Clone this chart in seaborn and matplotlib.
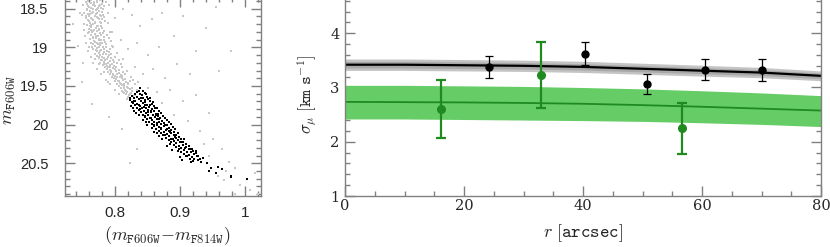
import matplotlib
matplotlib.use("Agg")
import matplotlib.pyplot as plt
from matplotlib.ticker import MultipleLocator, FormatStrFormatter, FixedLocator
import seaborn as sns

# ---- left panel: CMD (colour, magnitude) ----
gray_stars = [
    (0.758, 18.40), (0.767, 18.41), (0.776, 18.39), (0.762, 18.43), (0.771, 18.42), (0.780, 18.44), (0.754, 18.42),
    (0.765, 18.45), (0.774, 18.46), (0.758, 18.47), (0.760, 18.48), (0.769, 18.47), (0.778, 18.49), (0.783, 18.46),
    (0.756, 18.50), (0.766, 18.51), (0.773, 18.49), (0.761, 18.53), (0.770, 18.52), (0.779, 18.54), (0.752, 18.55),
    (0.764, 18.56), (0.772, 18.55), (0.758, 18.57), (0.781, 18.58), (0.759, 18.59), (0.768, 18.60), (0.776, 18.58),
    (0.763, 18.62), (0.771, 18.61), (0.780, 18.63), (0.755, 18.62), (0.766, 18.65), (0.774, 18.64), (0.760, 18.66),
    (0.761, 18.68), (0.769, 18.67), (0.778, 18.69), (0.784, 18.66), (0.757, 18.71), (0.766, 18.70), (0.773, 18.72),
    (0.763, 18.74), (0.771, 18.73), (0.780, 18.75), (0.759, 18.76), (0.767, 18.77), (0.775, 18.76), (0.762, 18.78),
    (0.764, 18.80), (0.772, 18.79), (0.781, 18.81), (0.758, 18.82), (0.768, 18.83), (0.776, 18.82), (0.762, 18.84),
    (0.765, 18.86), (0.773, 18.85), (0.782, 18.87), (0.787, 18.84), (0.761, 18.89), (0.770, 18.88), (0.778, 18.90),
    (0.767, 18.92), (0.775, 18.91), (0.784, 18.93), (0.763, 18.94), (0.771, 18.95), (0.779, 18.94), (0.766, 18.96),
    (0.768, 18.98), (0.777, 18.97), (0.786, 18.99), (0.773, 18.96), (0.772, 19.01), (0.781, 19.00), (0.766, 19.02),
    (0.770, 19.04), (0.778, 19.03), (0.787, 19.05), (0.792, 19.02), (0.774, 19.07), (0.783, 19.06), (0.768, 19.08),
    (0.777, 19.10), (0.786, 19.09), (0.772, 19.11), (0.794, 19.08), (0.780, 19.13), (0.789, 19.12), (0.775, 19.14),
    (0.778, 19.16), (0.787, 19.15), (0.796, 19.17), (0.783, 19.14), (0.783, 19.19), (0.791, 19.18), (0.777, 19.20),
    (0.786, 19.22), (0.795, 19.21), (0.781, 19.23), (0.802, 19.20), (0.789, 19.25), (0.798, 19.24), (0.784, 19.26),
    (0.787, 19.28), (0.796, 19.27), (0.805, 19.29), (0.792, 19.26), (0.793, 19.31), (0.801, 19.30), (0.788, 19.32),
    (0.796, 19.34), (0.805, 19.33), (0.791, 19.35), (0.812, 19.32), (0.800, 19.37), (0.808, 19.36), (0.795, 19.38),
    (0.798, 19.40), (0.807, 19.39), (0.815, 19.41), (0.803, 19.38), (0.804, 19.43), (0.812, 19.42), (0.799, 19.44),
    (0.807, 19.46), (0.816, 19.45), (0.802, 19.47), (0.822, 19.44), (0.811, 19.49), (0.819, 19.48), (0.806, 19.50),
    (0.809, 19.52), (0.818, 19.51), (0.825, 19.53), (0.814, 19.50), (0.815, 19.55), (0.822, 19.54), (0.810, 19.56),
    (0.818, 19.58), (0.826, 19.57), (0.813, 19.59), (0.816, 19.61), (0.823, 19.60), (0.830, 19.62), (0.820, 19.64),
    (0.827, 19.63), (0.823, 19.66), (0.818, 19.67),
    (0.762, 18.39), (0.771, 18.40), (0.756, 18.44), (0.767, 18.44), (0.776, 18.45), (0.763, 18.49), (0.772, 18.50),
    (0.781, 18.50), (0.757, 18.52), (0.766, 18.54), (0.775, 18.53), (0.761, 18.57), (0.770, 18.57), (0.778, 18.60),
    (0.755, 18.60), (0.764, 18.63), (0.773, 18.62), (0.782, 18.61), (0.758, 18.65), (0.768, 18.69), (0.776, 18.67),
    (0.763, 18.71), (0.770, 18.75), (0.778, 18.72), (0.761, 18.73), (0.766, 18.79), (0.774, 18.78), (0.783, 18.79),
    (0.760, 18.80), (0.770, 18.85), (0.778, 18.84), (0.765, 18.88), (0.774, 18.89), (0.782, 18.91), (0.769, 18.93),
    (0.777, 18.95), (0.786, 18.96), (0.764, 18.99), (0.774, 18.99), (0.783, 19.02), (0.776, 19.05), (0.790, 19.06),
    (0.771, 19.05), (0.781, 19.09), (0.790, 19.10), (0.775, 19.12), (0.784, 19.17), (0.793, 19.14), (0.780, 19.17),
    (0.788, 19.20), (0.798, 19.19), (0.783, 19.21), (0.792, 19.23), (0.801, 19.25), (0.787, 19.24), (0.791, 19.29),
    (0.800, 19.28), (0.794, 19.32), (0.803, 19.35), (0.810, 19.37), (0.797, 19.36), (0.801, 19.41), (0.810, 19.40),
    (0.806, 19.44), (0.814, 19.47), (0.820, 19.46), (0.809, 19.48), (0.813, 19.53), (0.820, 19.52), (0.817, 19.56),
    (0.824, 19.59), (0.812, 19.58), (0.821, 19.62),
    (0.750, 18.45), (0.786, 18.42), (0.749, 18.58), (0.788, 18.55), (0.751, 18.70), (0.789, 18.68), (0.753, 18.85),
    (0.791, 18.80), (0.755, 18.95), (0.793, 18.92), (0.758, 19.05), (0.797, 19.00), (0.762, 19.12), (0.800, 19.12),
    (0.766, 19.20), (0.806, 19.16), (0.772, 19.28), (0.811, 19.25), (0.778, 19.35), (0.818, 19.30), (0.785, 19.42),
    (0.824, 19.38), (0.792, 19.48), (0.830, 19.47), (0.800, 19.55), (0.834, 19.55), (0.805, 19.60), (0.752, 18.78),
    (0.790, 18.88), (0.795, 18.98), (0.760, 19.00), (0.803, 19.07), (0.768, 19.15), (0.808, 19.22), (0.775, 19.22),
    (0.815, 19.35), (0.782, 19.32), (0.827, 19.42), (0.789, 19.45),
]
field_stars = [
    (0.735, 18.70), (0.745, 18.55), (0.742, 18.98), (0.750, 19.20), (0.748, 19.45), (0.764, 19.73), (0.790, 18.45),
    (0.800, 18.62), (0.812, 18.50), (0.826, 18.58), (0.838, 18.72), (0.856, 18.64), (0.872, 18.55), (0.795, 18.80),
    (0.808, 18.90), (0.820, 19.02), (0.834, 18.95), (0.850, 19.10), (0.868, 19.00), (0.890, 18.85), (0.905, 18.60),
    (0.925, 19.05), (0.940, 18.75), (0.955, 18.48), (0.812, 19.15), (0.830, 19.25), (0.842, 19.35), (0.858, 19.28),
    (0.876, 19.40), (0.895, 19.22), (0.915, 19.35), (0.960, 19.30), (0.978, 19.05), (0.835, 19.45), (0.850, 19.52),
    (0.865, 19.58), (0.885, 19.55), (0.905, 19.70), (0.925, 19.62), (0.945, 19.85), (0.872, 19.72), (0.890, 19.88),
    (0.912, 19.95), (0.930, 20.08), (0.950, 20.18), (0.965, 20.32), (0.975, 20.48), (0.985, 20.56), (0.992, 20.78),
    (1.008, 20.84), (0.968, 20.72), (0.958, 20.66), (0.970, 20.60), (1.015, 20.62), (0.823, 20.50), (0.833, 20.31),
    (0.810, 20.05), (0.790, 19.90), (0.945, 20.40), (0.936, 20.25), (1.020, 20.90), (0.985, 20.90),
]
black_stars = [
    (0.838, 19.52), (0.836, 19.56), (0.843, 19.57), (0.830, 19.60), (0.838, 19.61), (0.845, 19.59),
    (0.826, 19.63), (0.834, 19.64), (0.841, 19.62), (0.849, 19.64),
    (0.828, 19.66), (0.836, 19.67), (0.843, 19.65), (0.851, 19.67), (0.822, 19.68),
    (0.831, 19.69), (0.839, 19.70), (0.846, 19.68), (0.854, 19.70), (0.825, 19.71),
    (0.827, 19.72), (0.834, 19.73), (0.842, 19.72), (0.849, 19.74), (0.857, 19.73),
    (0.830, 19.75), (0.838, 19.76), (0.845, 19.75), (0.852, 19.77), (0.860, 19.76), (0.824, 19.76),
    (0.833, 19.78), (0.841, 19.79), (0.848, 19.78), (0.856, 19.80), (0.864, 19.79),
    (0.836, 19.81), (0.844, 19.82), (0.851, 19.81), (0.859, 19.83), (0.829, 19.82), (0.867, 19.82),
    (0.839, 19.84), (0.847, 19.85), (0.855, 19.84), (0.862, 19.86), (0.870, 19.85),
    (0.842, 19.87), (0.850, 19.88), (0.858, 19.87), (0.866, 19.89), (0.836, 19.88),
    (0.846, 19.90), (0.853, 19.91), (0.861, 19.90), (0.869, 19.92), (0.876, 19.91),
    (0.849, 19.93), (0.857, 19.94), (0.864, 19.93), (0.872, 19.95), (0.843, 19.94),
    (0.852, 19.96), (0.860, 19.97), (0.868, 19.96), (0.875, 19.98), (0.882, 19.97),
    (0.856, 19.99), (0.864, 20.00), (0.871, 19.99), (0.879, 20.01), (0.849, 20.00),
    (0.860, 20.02), (0.867, 20.03), (0.875, 20.02), (0.883, 20.04), (0.889, 20.03),
    (0.863, 20.05), (0.871, 20.06), (0.879, 20.05), (0.886, 20.07),
    (0.867, 20.08), (0.875, 20.09), (0.882, 20.08), (0.890, 20.10), (0.860, 20.09),
    (0.871, 20.11), (0.879, 20.12), (0.886, 20.11), (0.894, 20.13),
    (0.874, 20.14), (0.882, 20.15), (0.890, 20.14), (0.898, 20.16), (0.868, 20.15),
    (0.878, 20.17), (0.886, 20.18), (0.894, 20.17), (0.901, 20.19),
    (0.882, 20.20), (0.890, 20.21), (0.897, 20.20), (0.905, 20.22),
    (0.886, 20.23), (0.894, 20.24), (0.901, 20.23), (0.909, 20.25),
    (0.890, 20.26), (0.898, 20.27), (0.905, 20.26), (0.913, 20.28),
    (0.894, 20.29), (0.902, 20.30), (0.909, 20.29), (0.916, 20.31),
    (0.898, 20.32), (0.906, 20.33), (0.913, 20.32), (0.920, 20.34),
    (0.902, 20.35), (0.910, 20.36), (0.917, 20.35), (0.924, 20.37),
    (0.906, 20.38), (0.914, 20.39), (0.921, 20.38), (0.928, 20.40),
    (0.911, 20.41), (0.918, 20.42), (0.926, 20.41),
    (0.915, 20.44), (0.922, 20.45), (0.930, 20.44),
    (0.920, 20.47), (0.903, 20.46), (0.932, 20.48),
    (0.942, 20.50), (0.948, 20.56), (0.958, 20.55), (0.955, 20.62), (0.964, 20.58), (0.945, 20.60),
    (0.978, 20.66), (0.979, 20.68), (1.003, 20.70),
    (0.833, 19.58), (0.847, 19.61), (0.823, 19.65), (0.839, 19.66), (0.853, 19.65), (0.829, 19.70), (0.845, 19.71),
    (0.858, 19.71), (0.836, 19.74), (0.853, 19.74), (0.827, 19.78), (0.844, 19.77), (0.861, 19.79), (0.838, 19.80),
    (0.855, 19.82), (0.832, 19.85), (0.851, 19.84), (0.866, 19.86), (0.845, 19.89), (0.862, 19.88), (0.873, 19.89),
    (0.855, 19.92), (0.868, 19.93), (0.880, 19.94), (0.847, 19.97), (0.865, 19.98), (0.886, 19.99), (0.860, 20.00),
    (0.876, 20.00), (0.856, 20.04), (0.870, 20.04), (0.892, 20.06), (0.878, 20.07), (0.864, 20.11), (0.884, 20.10),
    (0.897, 20.11), (0.877, 20.13), (0.892, 20.16), (0.872, 20.18), (0.889, 20.19), (0.906, 20.18), (0.885, 20.25),
    (0.899, 20.22), (0.880, 20.28), (0.908, 20.30), (0.896, 20.34), (0.919, 20.31), (0.888, 20.33), (0.909, 20.40),
    (0.925, 20.34), (0.900, 20.42), (0.917, 20.48), (0.935, 20.43), (0.928, 20.46),
]

# ---- right panel: dispersion profile ----
r_black = [24.2, 40.4, 50.7, 60.5, 70.0]
sig_black = [3.38, 3.62, 3.06, 3.33, 3.32]
err_black = [0.20, 0.21, 0.18, 0.19, 0.20]

r_green = [16.1, 33.0, 56.6]
sig_green = [2.60, 3.23, 2.25]
err_green = [0.54, 0.61, 0.47]

r_model = [0, 10, 20, 30, 40, 50, 60, 70, 80]
black_model = [3.42, 3.42, 3.41, 3.40, 3.38, 3.345, 3.31, 3.275, 3.215]
black_outer = [0.105, 0.105, 0.105, 0.104, 0.103, 0.102, 0.100, 0.095, 0.090]
black_inner = [0.060, 0.060, 0.060, 0.060, 0.058, 0.057, 0.055, 0.053, 0.050]
green_model = [2.735, 2.73, 2.725, 2.715, 2.70, 2.675, 2.645, 2.61, 2.575]
green_hi = [3.04, 3.04, 3.03, 3.02, 3.00, 2.975, 2.94, 2.90, 2.85]
green_lo = [2.42, 2.42, 2.41, 2.40, 2.39, 2.375, 2.35, 2.32, 2.28]

sig_ticks = [1, 2, 3, 4]

sns.set_style("ticks")
plt.rcParams["font.family"] = ["Liberation Sans", "DejaVu Sans"]
plt.rcParams["mathtext.fontset"] = "cm"

FRAME = "#808080"
GREEN = "#1f8a1f"

fig = plt.figure(figsize=(8.3, 2.47), dpi=100)
ax1 = fig.add_axes([65 / 830, 1 - 196 / 247, 196 / 830, 199 / 247])
ax2 = fig.add_axes([345 / 830, 1 - 196 / 247, 476 / 830, 217 / 247])

gc, gm = zip(*(gray_stars + field_stars))
bc, bm = zip(*black_stars)
sns.scatterplot(x=list(gc), y=list(gm), marker="s", s=4, color="#c8c8c8",
                linewidth=0, ax=ax1, legend=False)
sns.scatterplot(x=list(bc), y=list(bm), marker="s", s=3.8, color="black",
                linewidth=0, ax=ax1, legend=False)
ax1.set_xlim(0.7223, 1.0247)
ax1.set_ylim(20.923, 18.349)
ax1.xaxis.set_major_locator(MultipleLocator(0.1))
ax1.xaxis.set_minor_locator(MultipleLocator(0.02))
ax1.yaxis.set_major_locator(MultipleLocator(0.5))
ax1.yaxis.set_minor_locator(MultipleLocator(0.1))
ax1.xaxis.set_major_formatter(FormatStrFormatter("%g"))
ax1.yaxis.set_major_formatter(FormatStrFormatter("%g"))
ax1.set_xlabel(r"$(m_{\mathtt{F606W}}{-}m_{\mathtt{F814W}})$", fontsize=13,
               va="center", ha="center")
ax1.set_ylabel(r"$m_{\mathtt{F606W}}$", fontsize=13, va="center", ha="center")
ax1.xaxis.set_label_coords(0.52, -0.2)
ax1.yaxis.set_label_coords(-0.285, 0.48)

# bands and model curves
ax2.fill_between(r_model, [m + o for m, o in zip(black_model, black_outer)],
                 [m - o for m, o in zip(black_model, black_outer)],
                 color="#c4c4c4", lw=0, zorder=1)
ax2.fill_between(r_model, [m + o for m, o in zip(black_model, black_inner)],
                 [m - o for m, o in zip(black_model, black_inner)],
                 color="#a8a8a8", lw=0, zorder=1.1)
ax2.fill_between(r_model, green_hi, green_lo, color="#66cc66", lw=0, zorder=1)
sns.lineplot(x=r_model, y=black_model, color="black", lw=1.6, ax=ax2, zorder=2)
sns.lineplot(x=r_model, y=green_model, color=GREEN, lw=1.3, ax=ax2, zorder=2)

ax2.errorbar(r_black, sig_black, yerr=err_black, fmt="o", color="black", ms=5,
             capsize=3, elinewidth=0.9, capthick=0.9, zorder=3)
ax2.errorbar(r_green, sig_green, yerr=err_green, fmt="o", color=GREEN, ms=5.5,
             capsize=3.5, elinewidth=1.6, capthick=1.6, zorder=3)

ax2.set_xlim(0, 80)
ax2.set_ylim(1, 5)
ax2.xaxis.set_major_locator(MultipleLocator(20))
ax2.xaxis.set_minor_locator(MultipleLocator(5))
ax2.yaxis.set_major_locator(FixedLocator(sig_ticks))
ax2.yaxis.set_minor_locator(MultipleLocator(0.2))
ax2.xaxis.set_major_formatter(FormatStrFormatter("%g"))
ax2.yaxis.set_major_formatter(FormatStrFormatter("%g"))
ax2.set_xlabel(r"$r\ [\mathtt{arcsec}]$", fontsize=13, va="center", ha="center")
ax2.set_ylabel(r"$\sigma_\mu\ [\mathtt{km\ s^{-1}}]$", fontsize=12,
               va="center", ha="center")
ax2.xaxis.set_label_coords(0.5, -0.17)
ax2.yaxis.set_label_coords(-0.08, 0.47)

for ax in (ax1, ax2):
    for sp in ax.spines.values():
        sp.set_color(FRAME)
        sp.set_linewidth(1.0)
    ax.tick_params(which="both", direction="in", top=True, right=True,
                   color=FRAME, width=1.0)
    ax.tick_params(which="major", length=7)
    ax.tick_params(which="minor", length=3.5)

ax1.tick_params(axis="y", which="major", pad=12, labelsize=10.5)
ax1.tick_params(axis="x", which="major", pad=7, labelsize=11)
ax2.tick_params(axis="x", which="major", pad=2, labelsize=10.5)
ax2.tick_params(axis="y", which="major", pad=4, labelsize=10.5)
for lab in ax2.get_xticklabels() + ax2.get_yticklabels():
    lab.set_fontfamily("DejaVu Serif")

fig.savefig("out.png", dpi=100)
